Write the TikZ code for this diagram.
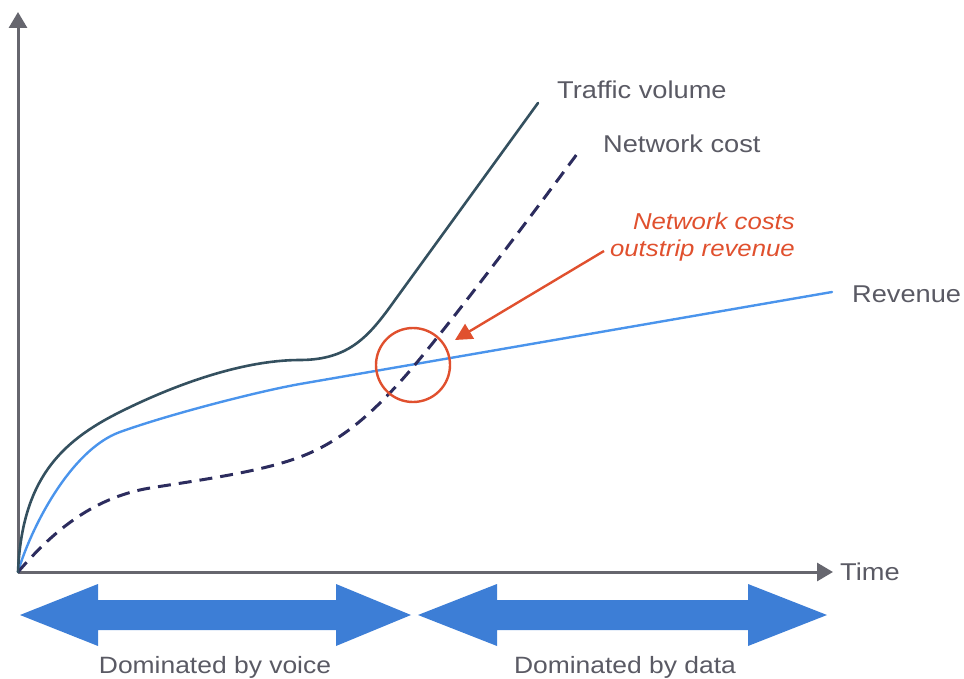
\documentclass[tikz,border=0pt]{standalone}
\usepackage{fontspec}
\setmainfont[FakeStretch=1.12]{Liberation Sans}
\usetikzlibrary{arrows.meta}
\definecolor{axisgray}{HTML}{66666E}
\definecolor{labelgray}{HTML}{5A5A64}
\definecolor{traffic}{HTML}{34505F}
\definecolor{revenue}{HTML}{4A94EC}
\definecolor{netcost}{HTML}{2C2C5E}
\definecolor{hilite}{HTML}{E0502E}
\definecolor{phase}{HTML}{3D7ED6}
\tikzset{
  axis/.style={draw=axisgray, line width=3pt, -{Triangle[length=16pt,width=18pt]}},
  curvelabel/.style={text=labelgray, font=\fontsize{24.3}{28}\selectfont, inner sep=0pt, anchor=base west},
  phaselabel/.style={text=labelgray, font=\fontsize{23.6}{28}\selectfont, inner sep=0pt, anchor=base},
  notelabel/.style={text=hilite, font=\fontsize{23}{27}\selectfont\itshape, inner sep=0pt, anchor=base east},
  phasearrow/.style={fill=phase, draw=none},
}
\begin{document}
\begin{tikzpicture}[x=1pt,y=-1pt]
\useasboundingbox (0,0) rectangle (964,679);

% axes
\coordinate (O) at (18,572);
\coordinate (ytop) at (18,12);
\coordinate (xend) at (833,572);
\draw[axis] (O) -- (ytop);
\draw[axis] (O) -- (xend);
\node[curvelabel] (time) at (840,580) {Time};

% revenue
\draw[revenue, line width=2.4pt, line cap=round]
  (O) .. controls (30,530) and (70,450) .. (120,432)
      .. controls (170,414) and (260,391) .. (300,384)
      -- (832,292);
\node[curvelabel] (rev) at (852,302) {Revenue};

% network cost
\draw[netcost, line width=3pt, dash pattern=on 13pt off 8pt]
  (O) .. controls (50,535) and (90,498) .. (150,488)
      .. controls (200,480) and (260,472) .. (300,457)
      .. controls (340,442) and (370,415) .. (400,382)
      .. controls (440,338) and (540,204) .. (580,150);
\node[curvelabel] (cost) at (603,153) {Network cost};

% traffic volume
\draw[traffic, line width=2.6pt, line cap=round]
  (O) .. controls (22,480) and (60,442) .. (120,412)
      .. controls (170,387) and (240,360) .. (300,360)
      .. controls (350,360) and (370,335) .. (395,300)
      -- (538,103);
\node[curvelabel] (traf) at (557,99) {Traffic volume};

% crossover highlight
\node[draw=hilite, line width=2.4pt, circle, minimum size=74pt, inner sep=0pt] (cross) at (413,365) {};
\node[notelabel] (noteA) at (795,230) {Network costs};
\node[notelabel] (noteB) at (795,257) {outstrip revenue};
\coordinate (notefoot) at (604,251);
\coordinate (notetip) at (455,340);
\draw[hilite, line width=2.4pt, -{Triangle[length=17pt,width=17pt]}] (notefoot) -- (notetip);

% phase arrows
\fill[phasearrow] (20,615) -- (98,584) -- (98,600) -- (336,600) -- (336,584) -- (411,615)
  -- (336,646) -- (336,630) -- (98,630) -- (98,646) -- cycle;
\fill[phasearrow] (418,615) -- (497,584) -- (497,600) -- (748,600) -- (748,584) -- (827,615)
  -- (748,646) -- (748,630) -- (497,630) -- (497,646) -- cycle;
\node[phaselabel] (voice) at (215,673) {Dominated by voice};
\node[phaselabel] (data) at (625,673) {Dominated by data};
\end{tikzpicture}
\end{document}
